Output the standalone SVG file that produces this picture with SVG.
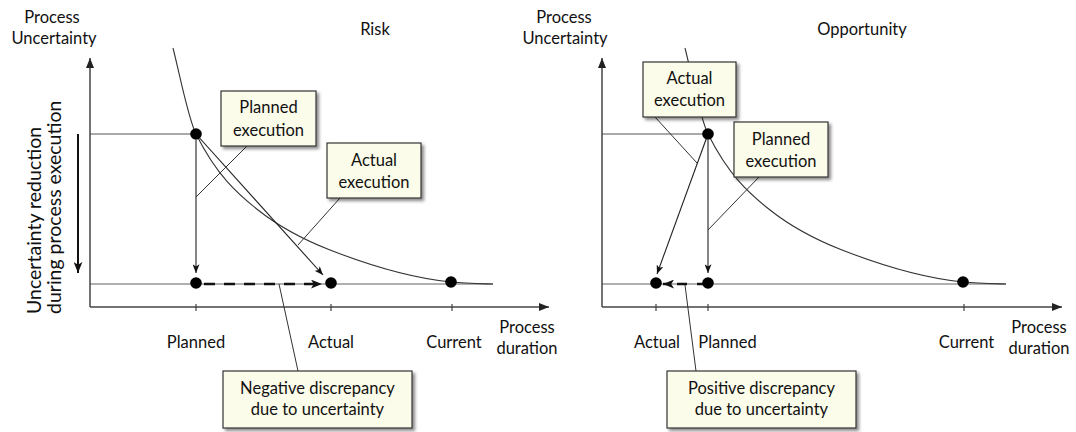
<svg xmlns="http://www.w3.org/2000/svg" width="1076" height="432" viewBox="0 0 1076 432">
<style>
text{font-family:Lato,"Open Sans","Liberation Sans",sans-serif;font-size:16.5px;fill:#111}
.c{text-anchor:middle}
.rot{font-size:19.5px}
.axis{stroke:#444;stroke-width:1.5;fill:none}
.tick{stroke:#444;stroke-width:1.2}
.proj{stroke:#555;stroke-width:1;fill:none}
.base{stroke:#b0b0b0;stroke-width:2;fill:none}
.curve{stroke:#333;stroke-width:1.1;fill:none}
.arr{stroke:#222;stroke-width:1.1;fill:none}
.dash{stroke:#111;stroke-width:2.6;fill:none}
.lead{stroke:#333;stroke-width:1;fill:none}
.box{fill:#fcfcea;stroke:#333;stroke-width:1.2;filter:url(#sh)}
.dot{fill:#000}
</style>
<defs>
<filter id="sh" x="-20%" y="-20%" width="150%" height="160%">
<feDropShadow dx="2.5" dy="2.5" stdDeviation="1.6" flood-color="#000" flood-opacity="0.45"/>
</filter>
<marker id="ax" viewBox="0 0 10 8" refX="10" refY="4" markerWidth="10" markerHeight="8" markerUnits="userSpaceOnUse" orient="auto"><path d="M0,0 L10,4 L0,8 z" fill="#222"/></marker>
<marker id="ah" viewBox="0 0 10 8" refX="10" refY="4" markerWidth="9" markerHeight="7" markerUnits="userSpaceOnUse" orient="auto"><path d="M0,0 L10,4 L0,8 L2.5,4 z" fill="#111"/></marker>
<marker id="ahb" viewBox="0 0 10 8" refX="10" refY="4" markerWidth="11" markerHeight="9" markerUnits="userSpaceOnUse" orient="auto"><path d="M0,0 L10,4 L0,8 L2.5,4 z" fill="#111"/></marker>
</defs>
<rect width="1076" height="432" fill="#fff"/>

<g id="connectors">
<!-- left chart -->
<path class="base" d="M90,284 L493,284"/>
<path class="proj" d="M90,134 L196,134"/>
<path class="axis" d="M90,307 L90,58" marker-end="url(#ax)"/>
<path class="axis" d="M90,307 L549,307" marker-end="url(#ax)"/>
<path class="tick" d="M196,304 V311 M331,304 V311 M452,304 V311"/>
<path class="curve" d="M173,48 C180.7,78.7 188.3,118.6 196,134 C216.7,175.4 237.3,193.7 258,210 C282,229 306,240.6 330,250 C370.3,265.7 410.7,278 451,282 C465,283.4 479,283.6 493,284"/>
<path class="arr" d="M196,140 L196,273" marker-end="url(#ah)"/>
<path class="arr" d="M196,134 L323,275" marker-end="url(#ah)"/>
<path class="dash" d="M204,284 L322,284" stroke-dasharray="11 9" marker-end="url(#ahb)"/>
<path d="M78,134 L78,273" stroke="#111" stroke-width="2" marker-end="url(#ahb)"/>
<path class="lead" d="M247,146 L196,197"/>
<path class="lead" d="M340,198 L298,245"/>
<path class="lead" d="M279,284 L298,371"/>
<!-- right chart -->
<path class="base" d="M602,284 L1006,284"/>
<path class="proj" d="M602,134 L708,134"/>
<path class="axis" d="M602,307 L602,58" marker-end="url(#ax)"/>
<path class="axis" d="M602,307 L1062,307" marker-end="url(#ax)"/>
<path class="tick" d="M656,304 V311 M708,304 V311 M964,304 V311"/>
<path class="curve" d="M685,48 C692.7,78.7 700.3,118.6 708,134 C728.7,175.4 749.3,193.7 770,210 C794,229 818,240.6 842,250 C882.3,265.7 922.7,278 963,282 C977,283.4 991,283.6 1006,284"/>
<path class="arr" d="M708,140 L708,273" marker-end="url(#ah)"/>
<path class="arr" d="M708,134 L657,274" marker-end="url(#ah)"/>
<path class="dash" d="M707,284 L663,284" stroke-dasharray="10 10" marker-end="url(#ahb)"/>
<path class="lead" d="M655,117 L697,163"/>
<path class="lead" d="M759,177 L708,230"/>
<path class="lead" d="M685,285 L696,371"/>
</g>

<g id="dots">
<circle id="dot-l-start" class="dot" cx="196" cy="134" r="5.8"/>
<circle id="dot-l-planned" class="dot" cx="196" cy="283" r="5.8"/>
<circle id="dot-l-actual" class="dot" cx="331" cy="283" r="5.8"/>
<circle id="dot-l-current" class="dot" cx="451" cy="282" r="5.8"/>
<circle id="dot-r-start" class="dot" cx="708" cy="134" r="5.8"/>
<circle id="dot-r-actual" class="dot" cx="656" cy="283" r="5.8"/>
<circle id="dot-r-planned" class="dot" cx="708" cy="283" r="5.8"/>
<circle id="dot-r-current" class="dot" cx="963" cy="282" r="5.8"/>
</g>

<g id="box-l-planned">
<rect class="box" x="221" y="91" width="95" height="55"/>
<text class="c" x="268.5" y="113">Planned</text>
<text class="c" x="268.5" y="136">execution</text>
</g>
<g id="box-l-actual">
<rect class="box" x="327" y="143" width="94" height="55"/>
<text class="c" x="374" y="166">Actual</text>
<text class="c" x="374" y="188">execution</text>
</g>
<g id="box-negative">
<rect class="box" x="223" y="371" width="189" height="57"/>
<text class="c" x="317.5" y="394">Negative discrepancy</text>
<text class="c" x="317.5" y="415">due to uncertainty</text>
</g>
<g id="box-r-actual">
<rect class="box" x="643" y="62" width="93" height="55"/>
<text class="c" x="689.5" y="84">Actual</text>
<text class="c" x="689.5" y="106">execution</text>
</g>
<g id="box-r-planned">
<rect class="box" x="734" y="122" width="94" height="55"/>
<text class="c" x="781" y="145">Planned</text>
<text class="c" x="781" y="167">execution</text>
</g>
<g id="box-positive">
<rect class="box" x="667" y="371" width="189" height="57"/>
<text class="c" x="761.5" y="394">Positive discrepancy</text>
<text class="c" x="761.5" y="415">due to uncertainty</text>
</g>

<g id="labels-left">
<text class="c" x="52" y="23">Process</text>
<text class="c" x="54" y="44">Uncertainty</text>
<text class="c" x="375" y="35">Risk</text>
<text class="c" x="196" y="348">Planned</text>
<text class="c" x="331" y="348">Actual</text>
<text class="c" x="454" y="348">Current</text>
<text class="c" x="527" y="333">Process</text>
<text class="c" x="527" y="354">duration</text>
<text class="rot" transform="translate(41,314) rotate(-90)">Uncertainty reduction</text>
<text class="rot" transform="translate(61,314) rotate(-90)">during process execution</text>
</g>
<g id="labels-right">
<text class="c" x="564" y="23">Process</text>
<text class="c" x="565" y="44">Uncertainty</text>
<text class="c" x="862" y="35">Opportunity</text>
<text class="c" x="657" y="348">Actual</text>
<text class="c" x="727.5" y="348">Planned</text>
<text class="c" x="966.5" y="348">Current</text>
<text class="c" x="1039" y="333">Process</text>
<text class="c" x="1039" y="354">duration</text>
</g>
</svg>
